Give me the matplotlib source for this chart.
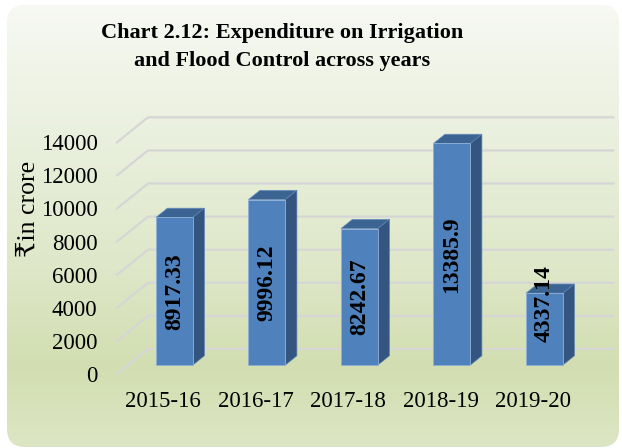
import numpy as np
import matplotlib
matplotlib.use("Agg")
import matplotlib.pyplot as plt
from matplotlib.patches import FancyBboxPatch, Polygon
from matplotlib.colors import LinearSegmentedColormap

# data
years = ["2015-16", "2016-17", "2017-18", "2018-19", "2019-20"]
spend = [8917.33, 9996.12, 8242.67, 13385.9, 4337.14]
yticks = [0, 2000, 4000, 6000, 8000, 10000, 12000, 14000]

W, H = 622, 448
plt.rcParams['font.family'] = ['Liberation Serif', 'DejaVu Serif', 'DejaVu Sans']

fig = plt.figure(figsize=(W / 100, H / 100), dpi=100)

# background panel with gradient
bg = fig.add_axes([0, 0, 1, 1])
bg.set_xlim(0, W)
bg.set_ylim(H, 0)
bg.axis('off')
cmap = LinearSegmentedColormap.from_list('panel', [
    (0.0, (247/255, 249/255, 243/255)),
    (0.3, (234/255, 240/255, 222/255)),
    (0.6, (222/255, 231/255, 200/255)),
    (0.82, (210/255, 222/255, 177/255)),
    (1.0, (221/255, 230/255, 196/255)),
])
grad = np.linspace(0, 1, 256).reshape(-1, 1)
img = bg.imshow(grad, cmap=cmap, aspect='auto', extent=(0, W, H, 0))
panel = FancyBboxPatch((7, 5), 612, H - 6, boxstyle="round,pad=0,rounding_size=18",
                       transform=bg.transData, facecolor='none', edgecolor='none')
bg.add_patch(panel)
img.set_clip_path(panel)

# layout of the pseudo 3D plot (pixels)
px_cat = 92.5
px_val = 33.1 / 2000
x0, y0 = 117, 374
dep_x = 31 / px_cat
dep_y = 25 / px_val
f_front, f_depth = 0.36, 0.37
bw = 0.4

ymax = yticks[-1] + dep_y
xmax = len(years) - 0.5 + dep_x
right = x0 + (xmax + 0.5) * px_cat
top = y0 - ymax * px_val
ax = fig.add_axes([x0 / W, (H - y0) / H, (right - x0) / W, (y0 - top) / H])
ax.set_xlim(-0.5, xmax)
ax.set_ylim(0, ymax)
ax.patch.set_alpha(0)
for s in ax.spines.values():
    s.set_visible(False)

# gridlines on back wall + side wall
for t in yticks:
    ax.plot([-0.5, -0.5 + dep_x, len(years) - 0.5 + dep_x + 0.03], [t, t + dep_y, t + dep_y],
            color='#d6d6d6', lw=1.6, zorder=1, clip_on=False)

front_c = '#4f81bd'
top_c = '#3c6493'
side_c = '#34557f'
for i, v in enumerate(spend):
    xl = i - bw / 2 + f_front * dep_x
    xr = xl + bw
    yb = f_front * dep_y
    ddx, ddy = f_depth * dep_x, f_depth * dep_y
    ax.bar(xl + bw / 2, v, bottom=yb, width=bw, color=front_c, edgecolor='#8fb0d8',
           linewidth=0.6, zorder=3)
    ax.add_patch(Polygon([(xl, yb + v), (xr, yb + v), (xr + ddx, yb + v + ddy), (xl + ddx, yb + v + ddy)],
                         closed=True, facecolor=top_c, edgecolor='#6f93c0', lw=0.5, zorder=2))
    ax.add_patch(Polygon([(xr, yb), (xr + ddx, yb + ddy), (xr + ddx, yb + v + ddy), (xr, yb + v)],
                         closed=True, facecolor=side_c, edgecolor='#5a7fae', lw=0.5, zorder=2))
    ax.text(xl + bw / 2, yb + max(v / 2, 3700), f"{v:g}", rotation=90, ha='center', va='center',
            fontsize=17, fontweight='bold', zorder=4)

ax.set_xticks(range(len(years)))
ax.set_xticklabels(years)
ax.set_yticks(yticks)
ax.set_yticklabels([str(t) for t in yticks])
ax.tick_params(axis='both', length=0, labelsize=16.5)
ax.tick_params(axis='y', pad=14)
ax.tick_params(axis='x', pad=12)

fig.text(282 / W, 1 - 47 / H, "Chart 2.12: Expenditure on Irrigation\nand Flood Control across years",
         ha='center', va='center', fontsize=16, fontweight='bold', linespacing=1.5)
fig.text(29 / W, 1 - 209 / H, "₹in crore", rotation=90, ha='center', va='center', fontsize=18.5)

fig.savefig("out.png", dpi=100)
